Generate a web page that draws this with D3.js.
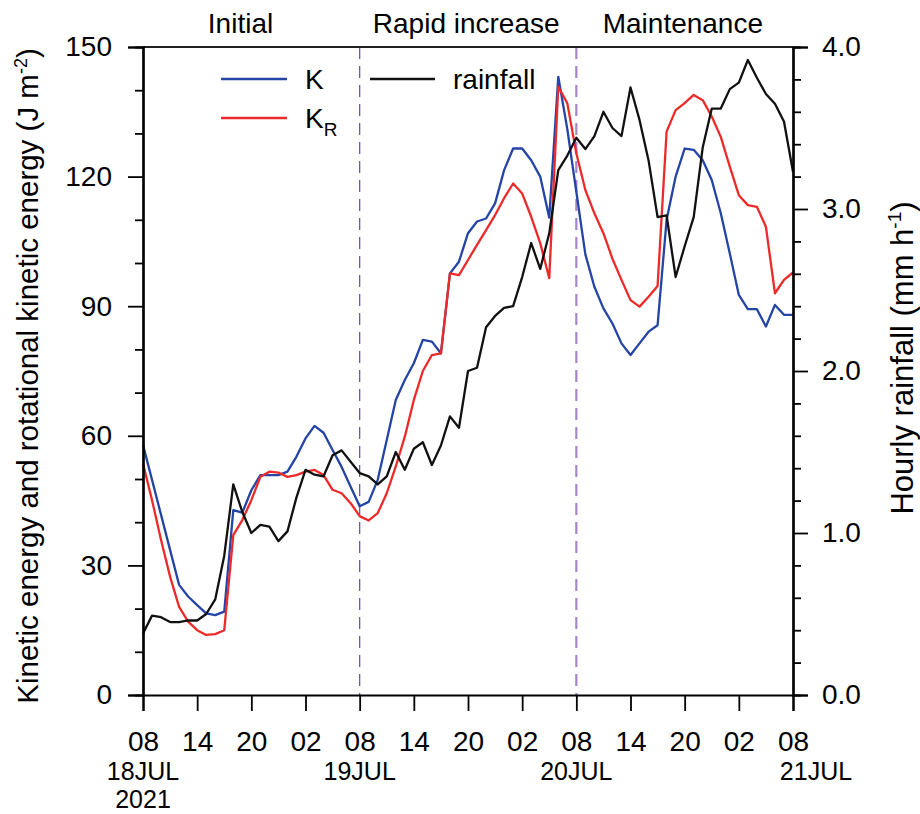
<!DOCTYPE html>
<html><head><meta charset="utf-8">
<script src="https://cdn.jsdelivr.net/npm/d3@7"></script>
<style>
body{margin:0;background:#fff}
svg{display:block}
text{font-family:"Liberation Sans",Arial,Helvetica,sans-serif;fill:#000}
</style>
</head><body>
<svg id="c" width="920" height="814"></svg>
<script>
// Hourly values from 08 LST 18 JUL 2021 (hour 0) to 08 LST 21 JUL (hour 72)
const K = [57.9,49.8,41.7,33.6,25.5,22.8,20.8,18.9,18.5,19.3,
  42.8,42.2,47.4,50.9,50.9,50.9,51.7,55.2,59.4,62.3,
  60.7,56.7,52.8,48.2,43.7,44.7,49.8,59.0,68.3,72.9,
  76.8,82.2,81.8,79.1,97.6,100.3,106.9,109.6,110.3,113.8,
  121.5,126.5,126.5,123.8,120.0,110.5,143.1,131.0,116.5,102.0,
  94.5,89.5,86.0,81.4,78.7,81.4,84.1,85.6,110.0,120.0,
  126.5,126.2,123.8,119.2,111.5,102.2,92.6,89.3,89.3,85.3,
  90.3,88.0,88.0];
const KR = [53.6,45.1,35.9,27.4,20.4,17.0,15.0,13.9,14.1,15.0,
  37.0,40.5,45.1,50.5,51.7,51.5,50.5,50.9,51.7,52.1,
  50.9,47.5,46.7,44.4,41.4,40.4,42.1,46.7,52.9,59.8,
  68.3,75.0,78.7,79.1,97.6,97.2,100.7,104.2,107.6,111.1,
  115.0,118.4,116.1,110.7,104.6,96.5,140.8,137.0,125.4,116.9,
  111.5,106.9,101.0,96.1,91.4,89.9,92.2,94.7,130.4,135.4,
  137.0,138.9,137.7,133.9,129.2,122.3,115.7,113.4,113.0,108.4,
  93.0,96.1,97.8];
const rainfall = [0.38,0.49,0.48,0.45,0.45,0.46,0.46,0.50,0.59,0.86,
  1.30,1.13,1.00,1.05,1.04,0.95,1.01,1.22,1.39,1.36,
  1.35,1.48,1.51,1.44,1.37,1.35,1.30,1.35,1.50,1.39,
  1.52,1.56,1.42,1.54,1.72,1.65,2.00,2.02,2.27,2.34,
  2.39,2.40,2.58,2.79,2.63,2.85,3.24,3.33,3.44,3.37,
  3.45,3.60,3.50,3.45,3.75,3.55,3.30,2.95,2.96,2.58,
  2.77,2.95,3.38,3.62,3.62,3.74,3.78,3.92,3.81,3.71,
  3.65,3.54,3.23];
const hourTickLabels = ["08","14","20","02","08","14","20","02","08","14","20","02","08"];
const dayLabels = ["18JUL","19JUL","20JUL","21JUL"];
const yearLabel = "2021";
const phaseNames = ["Initial","Rapid increase","Maintenance"];
const phaseBoundaries = [24,48];
const leftTicks = [0,30,60,90,120,150];
const rightTicks = [0,1,2,3,4];

const svg = d3.select("#c");
const L=143,R=793,T=47,B=695;
const x = d3.scaleLinear().domain([0,72]).range([L,R]);
const yL = d3.scaleLinear().domain([0,150]).range([B,T]);
const yR = d3.scaleLinear().domain([0,4]).range([B,T]);
const FS = 28;

// phase boundaries
phaseBoundaries.forEach((h,i)=>{
  svg.append("line").attr("x1",x(h)).attr("x2",x(h)).attr("y1",T).attr("y2",B)
    .attr("stroke", i===0?"#6e58ad":"#a785cc")
    .attr("stroke-width", i===0?1.3:2.2)
    .attr("stroke-dasharray","12,7");
});

// lines
const hrs = d3.range(K.length);
const lk = d3.line().x(i=>x(i)).y(i=>yL(K[i]));
const lkr = d3.line().x(i=>x(i)).y(i=>yL(KR[i]));
const lr = d3.line().x(i=>x(i)).y(i=>yR(rainfall[i]));
svg.append("path").attr("d",lk(hrs)).attr("fill","none").attr("stroke","#2444a6").attr("stroke-width",2.3).attr("stroke-linejoin","round");
svg.append("path").attr("d",lkr(hrs)).attr("fill","none").attr("stroke","#ec2a2a").attr("stroke-width",2.3).attr("stroke-linejoin","round");
svg.append("path").attr("d",lr(hrs)).attr("fill","none").attr("stroke","#111").attr("stroke-width",2.3).attr("stroke-linejoin","round");

// frame top
svg.append("line").attr("x1",L).attr("x2",R).attr("y1",T).attr("y2",T).attr("stroke","#222").attr("stroke-width",2);

function styleAxis(g){
  g.select(".domain").attr("stroke","#000").attr("stroke-width",2.2);
  g.selectAll(".tick line").attr("stroke","#000").attr("stroke-width",1.8);
  g.selectAll("text").attr("font-size",FS).attr("font-family","Liberation Sans, Arial, sans-serif");
}
// left axis
const minorL = d3.range(0,151,10).filter(v=>v%30!==0);
svg.append("g").attr("transform",`translate(${L},0)`)
  .call(d3.axisLeft(yL).tickValues(minorL).tickSize(8).tickFormat("")).call(styleAxis);
svg.append("g").attr("transform",`translate(${L},0)`)
  .call(d3.axisLeft(yL).tickValues(leftTicks).tickSize(15).tickPadding(16).tickFormat(d3.format("d"))).call(styleAxis);
// right axis
const minorR = d3.range(0,21).map(v=>v/5).filter(v=>Math.abs(v-Math.round(v))>1e-6);
svg.append("g").attr("transform",`translate(${R},0)`)
  .call(d3.axisRight(yR).tickValues(minorR).tickSize(8).tickFormat("")).call(styleAxis);
svg.append("g").attr("transform",`translate(${R},0)`)
  .call(d3.axisRight(yR).tickValues(rightTicks).tickSize(15).tickPadding(14).tickFormat(d3.format(".1f"))).call(styleAxis);
// bottom axis
const xt = d3.range(0,73,6);
svg.append("g").attr("transform",`translate(0,${B})`)
  .call(d3.axisBottom(x).tickValues(xt).tickSize(16).tickPadding(20).tickFormat((d,i)=>hourTickLabels[i])).call(styleAxis);

dayLabels.forEach((t,i)=>{
  const xx = x(i*24) + (i===dayLabels.length-1 ? 23 : 0);
  svg.append("text").attr("x",xx).attr("y",780).attr("text-anchor","middle").attr("font-size",25).text(t);
});
svg.append("text").attr("x",x(0)).attr("y",808).attr("text-anchor","middle").attr("font-size",25).text(yearLabel);

// phase titles
const phaseCenters=[10.8,35.8,59.8];
phaseNames.forEach((t,i)=>{
  svg.append("text").attr("x",x(phaseCenters[i])).attr("y",33).attr("text-anchor","middle").attr("font-size",FS).text(t);
});

// axis titles
const lt = svg.append("text").attr("transform","translate(38,376) rotate(-90)").attr("text-anchor","middle").attr("font-size",29.5);
lt.append("tspan").text("Kinetic energy and rotational kinetic energy (J m");
lt.append("tspan").attr("font-size",18).attr("dy",-11).text("-2");
lt.append("tspan").attr("dy",11).text(")");
const rt = svg.append("text").attr("transform","translate(913,358) rotate(-90)").attr("text-anchor","middle").attr("font-size",31);
rt.append("tspan").text("Hourly rainfall (mm h");
rt.append("tspan").attr("font-size",19).attr("dy",-12).text("-1");
rt.append("tspan").attr("dy",12).text(")");

// legend
const leg = [
  {c:"#2444a6", x1:221, x2:287, y:79, tx:305, label:"K", sub:null},
  {c:"#ec2a2a", x1:221, x2:287, y:118, tx:305, label:"K", sub:"R"},
  {c:"#111", x1:370, x2:435, y:79, tx:453, label:"rainfall", sub:null}
];
leg.forEach(d=>{
  svg.append("line").attr("x1",d.x1).attr("x2",d.x2).attr("y1",d.y).attr("y2",d.y).attr("stroke",d.c).attr("stroke-width",2.3);
  const t = svg.append("text").attr("x",d.tx).attr("y",d.y+10).attr("font-size",FS).text(d.label);
  if(d.sub) t.append("tspan").attr("font-size",19).attr("dy",8).text(d.sub);
});
</script>
</body></html>
